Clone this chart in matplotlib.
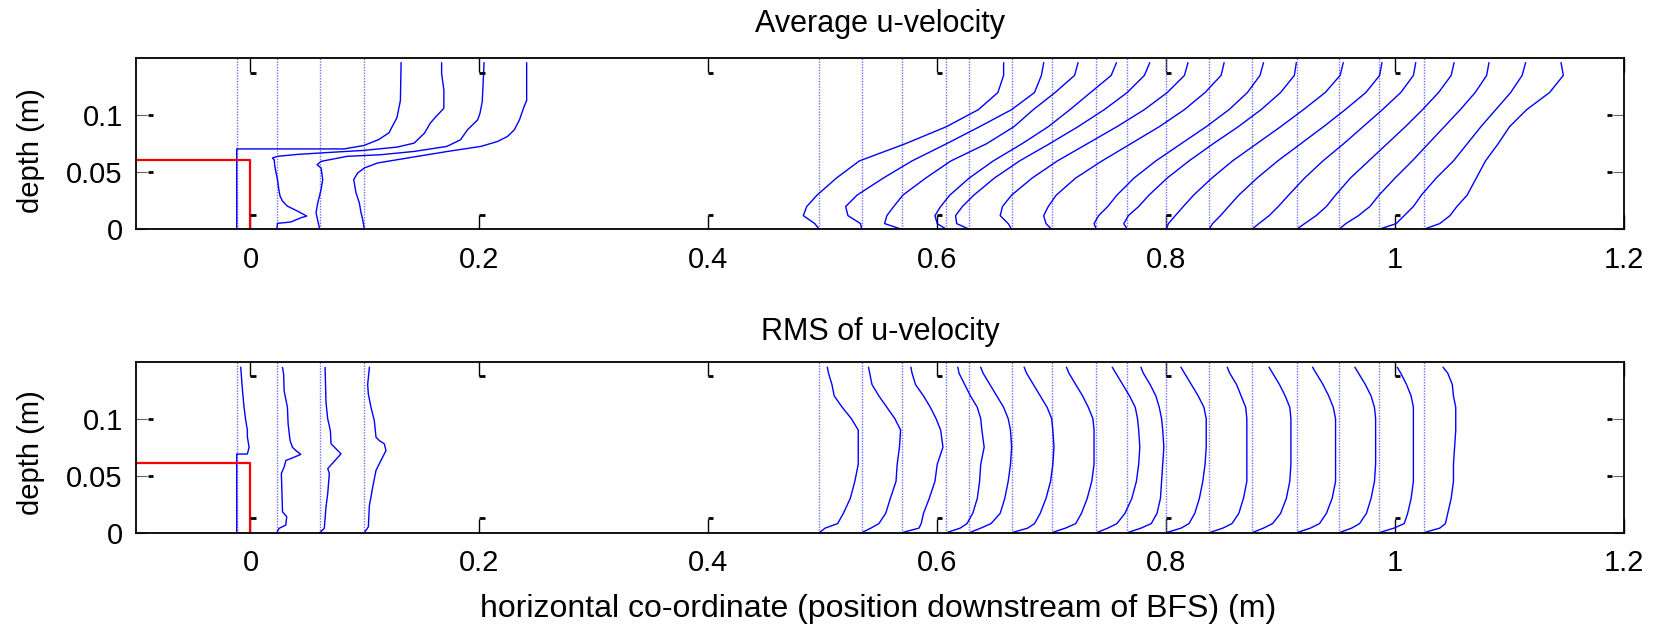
import numpy as np
import matplotlib.pyplot as plt

plt.rcParams['font.family'] = ['Liberation Sans', 'DejaVu Sans']

""" DATA """
# x positions of the measuring stations (m)
STATIONS_UP = [-0.012, 0.023, 0.0605, 0.0995]
STATIONS_DOWN = [0.497, 0.534, 0.569, 0.608, 0.628, 0.665, 0.700, 0.739,
                 0.766, 0.800, 0.8375, 0.875, 0.914, 0.951, 0.986, 1.025]

# step outline (BFS)
STEP_X = [-0.1, 0.0, 0.0]
STEP_Y = [0.061, 0.061, 0.0]

# upstream mean profiles: depth / scaled velocity offset
MEAN_UP_Y = [
    [0, 0.0705, 0.0705, 0.0735, 0.0787, 0.0846, 0.0904, 0.098, 0.113, 0.146],
    [0, 0.0052, 0.0064, 0.0101, 0.0116, 0.016, 0.0203, 0.0247, 0.029, 0.0334,
     0.0436, 0.0509, 0.0552, 0.061, 0.0625, 0.064, 0.0657, 0.0675, 0.0692,
     0.0721, 0.0756, 0.0785, 0.0843, 0.093, 0.0988, 0.1061, 0.122, 0.1366, 0.146],
    [0, 0.0145, 0.0232, 0.0349, 0.0436, 0.0538, 0.0567, 0.0596, 0.064, 0.0654,
     0.0683, 0.0727, 0.0785, 0.0872, 0.096, 0.1017, 0.1119, 0.146],
    [0, 0.0087, 0.0145, 0.0232, 0.032, 0.0436, 0.0494, 0.0538, 0.0582, 0.0611,
     0.064, 0.0683, 0.0727, 0.077, 0.0814, 0.0872, 0.096, 0.1075, 0.113, 0.146],
]
MEAN_UP_U = [
    [0, 0, 0.0936, 0.111, 0.124, 0.133, 0.136, 0.140, 0.143, 0.1436],
    [0, 0.0006, 0.0122, 0.021, 0.0262, 0.018, 0.0093, 0.005, 0.0029, 0.002,
     0.0006, -0.0009, -0.0017, -0.0023, -0.0038, 0.0006, 0.018, 0.047, 0.076,
     0.105, 0.120, 0.123, 0.129, 0.134, 0.139, 0.1459, 0.146, 0.144, 0.144],
    [0, -0.0032, -0.0017, 0.0012, 0.0026, 0.0012, -0.0023, 0.0012, 0.024, 0.053,
     0.0825, 0.111, 0.123, 0.129, 0.138, 0.140, 0.142, 0.1436],
    [0, -0.0015, -0.0029, -0.0044, -0.0073, -0.0093, -0.0058, 0, 0.0116, 0.0291,
     0.0465, 0.0727, 0.1017, 0.1163, 0.125, 0.131, 0.1355, 0.1395, 0.1418, 0.1418],
]

# downstream mean profiles on a common depth grid
MEAN_Y = [0, 0.005, 0.012, 0.02, 0.03, 0.045, 0.06, 0.075, 0.09, 0.105, 0.12, 0.135, 0.146]
MEAN_DOWN = [
    [0, -0.004, -0.014, -0.011, -0.002, 0.015, 0.035, 0.075, 0.111, 0.139, 0.156, 0.161, 0.161],
    [0, -0.001, -0.012, -0.014, -0.004, 0.019, 0.044, 0.074, 0.103, 0.131, 0.151, 0.157, 0.159],
    [0, -0.015, -0.013, -0.007, 0.001, 0.021, 0.043, 0.074, 0.098, 0.115, 0.134, 0.151, 0.154],
    [0, -0.008, -0.010, -0.005, 0.003, 0.020, 0.041, 0.066, 0.089, 0.108, 0.126, 0.144, 0.1485],
    [0, -0.011, -0.012, -0.006, 0.004, 0.022, 0.044, 0.070, 0.095, 0.118, 0.138, 0.153, 0.1576],
    [0, -0.003, -0.010, -0.008, 0.000, 0.018, 0.040, 0.066, 0.092, 0.116, 0.136, 0.151, 0.154],
    [0, -0.005, -0.007, -0.003, 0.004, 0.021, 0.044, 0.069, 0.094, 0.116, 0.134, 0.148, 0.1506],
    [0, -0.002, 0.002, 0.010, 0.018, 0.033, 0.052, 0.074, 0.096, 0.116, 0.132, 0.143, 0.146],
    [0, -0.003, 0.001, 0.010, 0.019, 0.035, 0.054, 0.075, 0.097, 0.117, 0.134, 0.146, 0.1477],
    [0, 0.002, 0.008, 0.015, 0.024, 0.040, 0.058, 0.079, 0.100, 0.120, 0.139, 0.152, 0.1547],
    [0, 0.003, 0.010, 0.017, 0.026, 0.042, 0.060, 0.080, 0.100, 0.119, 0.137, 0.149, 0.151],
    [0, 0.006, 0.015, 0.023, 0.032, 0.046, 0.062, 0.080, 0.097, 0.114, 0.130, 0.141, 0.143],
    [0, 0.007, 0.017, 0.026, 0.034, 0.047, 0.063, 0.079, 0.095, 0.110, 0.124, 0.135, 0.1375],
    [0, 0.006, 0.017, 0.027, 0.035, 0.049, 0.064, 0.078, 0.092, 0.106, 0.119, 0.129, 0.131],
    [0, 0.015, 0.022, 0.030, 0.037, 0.050, 0.065, 0.077, 0.089, 0.102, 0.115, 0.125, 0.128],
    [0, 0.014, 0.023, 0.029, 0.038, 0.046, 0.054, 0.065, 0.075, 0.090, 0.110, 0.122, 0.120],
]

# upstream RMS profiles
RMS_UP_Y = [
    [0, 0.069, 0.069, 0.075, 0.084, 0.09, 0.099, 0.110, 0.125, 0.145],
    [0, 0.0038, 0.0067, 0.014, 0.0183, 0.052, 0.0576, 0.0634, 0.0649, 0.0687,
     0.0721, 0.075, 0.0808, 0.0954, 0.110, 0.1245, 0.139, 0.1448],
    [0, 0.0038, 0.0227, 0.0343, 0.052, 0.0562, 0.0692, 0.078, 0.0896, 0.0998,
     0.1143, 0.1448],
    [0, 0.0052, 0.024, 0.0314, 0.040, 0.0547, 0.0605, 0.0721, 0.078, 0.0808,
     0.0837, 0.0983, 0.110, 0.1215, 0.130, 0.145],
]
RMS_UP_U = [
    [0, 0, 0.0093, 0.0108, 0.0093, 0.0093, 0.0078, 0.0064, 0.005, 0.0035],
    [0, 0.002, 0.0078, 0.0087, 0.005, 0.004, 0.0064, 0.008, 0.012, 0.021,
     0.0166, 0.0137, 0.0116, 0.0099, 0.0093, 0.0064, 0.006, 0.005],
    [0, 0.004, 0.0055, 0.007, 0.0084, 0.007, 0.0186, 0.0099, 0.0093, 0.007,
     0.0055, 0.0047],
    [0, 0.0035, 0.0044, 0.0058, 0.0073, 0.0102, 0.0131, 0.0189, 0.0174, 0.0131,
     0.0102, 0.0087, 0.0058, 0.0035, 0.0029, 0.0044],
]

# downstream RMS profiles on a common depth grid
RMS_Y = [0, 0.004, 0.008, 0.017, 0.03, 0.045, 0.06, 0.075, 0.09, 0.1, 0.11, 0.12, 0.13, 0.14, 0.145]
RMS_DOWN = [
    [0, 0.005, 0.016, 0.021, 0.027, 0.031, 0.034, 0.034, 0.034, 0.028, 0.020, 0.013, 0.011, 0.008, 0.007],
    [0, 0.008, 0.015, 0.021, 0.025, 0.030, 0.031, 0.033, 0.034, 0.029, 0.022, 0.015, 0.009, 0.007, 0.006],
    [0, 0.015, 0.017, 0.019, 0.024, 0.029, 0.031, 0.036, 0.034, 0.030, 0.025, 0.019, 0.012, 0.009, 0.008],
    [0, 0.012, 0.018, 0.023, 0.027, 0.029, 0.030, 0.033, 0.031, 0.030, 0.027, 0.021, 0.016, 0.011, 0.010],
    [0, 0.010, 0.019, 0.027, 0.031, 0.034, 0.036, 0.037, 0.036, 0.034, 0.030, 0.024, 0.018, 0.012, 0.010],
    [0, 0.014, 0.020, 0.025, 0.030, 0.034, 0.036, 0.037, 0.036, 0.035, 0.031, 0.025, 0.019, 0.013, 0.011],
    [0, 0.012, 0.021, 0.026, 0.031, 0.035, 0.037, 0.037, 0.037, 0.036, 0.032, 0.027, 0.021, 0.015, 0.013],
    [0, 0.010, 0.018, 0.025, 0.031, 0.035, 0.037, 0.038, 0.037, 0.036, 0.034, 0.029, 0.023, 0.017, 0.014],
    [0, 0.012, 0.021, 0.026, 0.029, 0.030, 0.031, 0.032, 0.031, 0.030, 0.028, 0.025, 0.020, 0.014, 0.012],
    [0, 0.013, 0.020, 0.025, 0.029, 0.032, 0.034, 0.035, 0.035, 0.035, 0.033, 0.028, 0.022, 0.016, 0.013],
    [0, 0.012, 0.020, 0.026, 0.030, 0.033, 0.033, 0.033, 0.033, 0.033, 0.032, 0.028, 0.024, 0.018, 0.016],
    [0, 0.010, 0.018, 0.025, 0.030, 0.033, 0.034, 0.034, 0.034, 0.034, 0.033, 0.029, 0.024, 0.018, 0.015],
    [0, 0.012, 0.020, 0.026, 0.031, 0.034, 0.034, 0.034, 0.034, 0.034, 0.032, 0.028, 0.023, 0.017, 0.014],
    [0, 0.011, 0.018, 0.024, 0.028, 0.031, 0.032, 0.032, 0.032, 0.032, 0.031, 0.028, 0.023, 0.017, 0.014],
    [0, 0.013, 0.022, 0.025, 0.028, 0.030, 0.030, 0.030, 0.030, 0.030, 0.030, 0.028, 0.024, 0.019, 0.016],
    [0, 0.014, 0.019, 0.021, 0.024, 0.026, 0.026, 0.027, 0.028, 0.028, 0.028, 0.026, 0.025, 0.021, 0.017],
]

XTICKS = [0, 0.2, 0.4, 0.6, 0.8, 1.0, 1.2]
XTICKLABELS = ['0', '0.2', '0.4', '0.6', '0.8', '1', '1.2']
YTICKS = [0, 0.05, 0.1]
YTICKLABELS = ['0', '0.05', '0.1']

""" SETTINGS """
W, H = 1662, 624
XLIM = (-0.1, 1.2)
YLIM = (0, 0.15)
BLUE = '#0000ff'
GUIDE = '#7070ff'


def draw_panel(ax, up_y, up_u, grid_y, down_u, title, title_pad):
    for s in STATIONS_UP + STATIONS_DOWN:
        ax.plot([s, s], YLIM, color=GUIDE, linestyle=(0, (1, 1)), linewidth=1.0)
    for s, y, u in zip(STATIONS_UP, up_y, up_u):
        ax.plot(s + np.array(u), y, color=BLUE, linewidth=1.0)
    for s, u in zip(STATIONS_DOWN, down_u):
        ax.plot(s + np.array(u), grid_y, color=BLUE, linewidth=1.0)
    ax.plot(STEP_X, STEP_Y, color='red', linewidth=1.6)

    # little marks at the tick ends
    for t in XTICKS[:-1]:
        for yy in (0.0125, YLIM[1] - 0.0125):
            ax.plot([t, t + 0.0045], [yy, yy], color='k', linewidth=2.0, solid_capstyle='butt')
    for t in YTICKS[1:]:
        ax.plot([-0.1 + 0.0105, -0.1 + 0.015], [t, t], color='k', linewidth=2.0, solid_capstyle='butt')
        ax.plot([1.2 - 0.015, 1.2 - 0.0105], [t, t], color='k', linewidth=2.0, solid_capstyle='butt')

    ax.set_xlim(XLIM)
    ax.set_ylim(YLIM)
    ax.set_xticks(XTICKS)
    ax.set_xticklabels(XTICKLABELS)
    ax.set_yticks(YTICKS)
    ax.set_yticklabels(YTICKLABELS)
    ax.tick_params(axis='x', direction='in', length=10.3, width=1.0, top=True,
                   labelsize=21, pad=12)
    ax.tick_params(axis='y', direction='in', length=8, width=0.8, right=True,
                   color='0.4', labelsize=21, pad=9.5)
    for sp in ax.spines.values():
        sp.set_linewidth(1.3)
    ax.set_title(title, fontsize=22, pad=title_pad)


fig = plt.figure(figsize=(W / 100, H / 100), dpi=100)
ax1 = fig.add_axes([136 / W, 1 - 229.3 / H, 1488 / W, 171 / H])
ax2 = fig.add_axes([136 / W, 1 - 532.7 / H, 1488 / W, 171 / H])

draw_panel(ax1, MEAN_UP_Y, MEAN_UP_U, MEAN_Y, MEAN_DOWN, 'Average u-velocity', 19.2)
draw_panel(ax2, RMS_UP_Y, RMS_UP_U, RMS_Y, RMS_DOWN, 'RMS of u-velocity', 15.8)

fig.text(878 / W, 1 - 616.7 / H, 'horizontal co-ordinate (position downstream of BFS) (m)',
         fontsize=23, ha='center', va='baseline')
fig.text(31 / W, 1 - 150.8 / H, 'depth (m)', fontsize=21, rotation=90, ha='center', va='center')
fig.text(31 / W, 1 - 452.5 / H, 'depth (m)', fontsize=21, rotation=90, ha='center', va='center')

fig.savefig('out.png', dpi=100)
